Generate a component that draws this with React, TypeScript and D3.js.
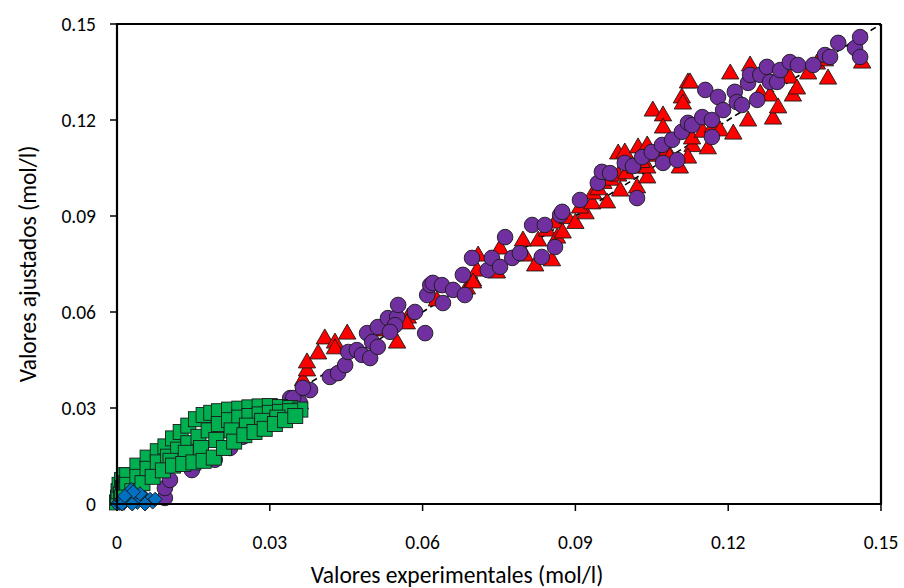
import React from "react";
import * as d3 from "d3";

const tickValues = [0, 0.03, 0.06, 0.09, 0.12, 0.15];
const tickLabels = ["0", "0.03", "0.06", "0.09", "0.12", "0.15"];
const xTitle = "Valores experimentales (mol/l)";
const yTitle = "Valores ajustados (mol/l)";

const blueDiamonds: [number, number][] = [
  [0.0, 0.0], [0.0005, 0.0003], [0.001, 0.001], [0.0015, 0.0005], [0.002, 0.0015],
  [0.0025, 0.0008], [0.003, 0.002], [0.0035, 0.001], [0.004, 0.0025], [0.004, 0.0005],
  [0.005, 0.0012], [0.0055, 0.002], [0.006, 0.0008], [0.0065, 0.0015], [0.007, 0.0006],
  [0.001, 0.0], [0.003, 0.0], [0.0045, 0.0032], [0.0028, 0.0045], [0.0032, 0.0038],
  [0.0075, 0.0015], [0.0055, 0.0], [0.0015, 0.0025],
];

const greenSquares: [number, number][] = [
  // near origin
  [0.0, 0.0005], [0.0002, 0.002], [0.0003, 0.004], [0.0005, 0.006], [0.0008, 0.003],
  [0.001, 0.0075], [0.0012, 0.005], [0.0015, 0.009], [0.0018, 0.0065],
  // upper
  [0.002, 0.009], [0.004, 0.012], [0.006, 0.0145], [0.008, 0.0165], [0.0095, 0.018],
  [0.011, 0.0205], [0.0125, 0.0225], [0.014, 0.0245], [0.0155, 0.0265], [0.017, 0.0278],
  [0.0185, 0.0285], [0.02, 0.029], [0.022, 0.0295], [0.024, 0.0298], [0.026, 0.0302],
  [0.028, 0.0305], [0.03, 0.0306], [0.032, 0.0303], [0.034, 0.03], [0.036, 0.0295],
  // middle
  [0.002, 0.006], [0.004, 0.0085], [0.006, 0.011], [0.008, 0.013], [0.01, 0.0148],
  [0.012, 0.017], [0.014, 0.019], [0.016, 0.021], [0.018, 0.023], [0.02, 0.025],
  [0.022, 0.0262], [0.024, 0.027], [0.026, 0.0275], [0.028, 0.028], [0.03, 0.0285],
  [0.032, 0.0288], [0.034, 0.029],
  // between
  [0.0105, 0.0135], [0.0135, 0.016], [0.0165, 0.0175], [0.0195, 0.02], [0.0225, 0.023],
  [0.0255, 0.0245], [0.0285, 0.026], [0.0315, 0.027],
  // lower
  [0.001, 0.002], [0.003, 0.004], [0.005, 0.0065], [0.007, 0.0085], [0.009, 0.0105],
  [0.011, 0.012], [0.013, 0.0125], [0.015, 0.013], [0.017, 0.0135], [0.019, 0.0145],
  [0.021, 0.0175], [0.023, 0.0195], [0.025, 0.0215], [0.027, 0.0225], [0.029, 0.0235],
  [0.031, 0.025], [0.033, 0.0262], [0.035, 0.0275],
];

const purpleCircles: [number, number][] = [
  [0.0094, 0.0019], [0.0094, 0.005], [0.0104, 0.0075], [0.0147, 0.0106], [0.0192, 0.0138],
  [0.0222, 0.0175], [0.0247, 0.021], [0.034, 0.0331], [0.0359, 0.0316], [0.0379, 0.0356],
  [0.0346, 0.0331], [0.0365, 0.0363], [0.0418, 0.0397], [0.0434, 0.0409], [0.0448, 0.0434],
  [0.0454, 0.0475], [0.0471, 0.0481], [0.0481, 0.0466], [0.0497, 0.0456], [0.0491, 0.0534],
  [0.0501, 0.0506], [0.0512, 0.0491], [0.0512, 0.0553], [0.0532, 0.0581], [0.055, 0.0584],
  [0.0546, 0.0559], [0.0536, 0.0538], [0.0552, 0.0622], [0.0585, 0.06], [0.0605, 0.0534],
  [0.0609, 0.0653], [0.0615, 0.0684], [0.062, 0.0691], [0.0638, 0.0684], [0.066, 0.0669],
  [0.0683, 0.0653], [0.064, 0.0628], [0.0679, 0.0716], [0.0697, 0.0769], [0.0728, 0.0731],
  [0.0736, 0.0769], [0.0752, 0.0741], [0.0762, 0.0834], [0.0776, 0.0769], [0.0791, 0.0784],
  [0.0815, 0.0872], [0.0834, 0.0772], [0.084, 0.0872], [0.086, 0.0803], [0.087, 0.0903],
  [0.0874, 0.0913], [0.0909, 0.095], [0.0944, 0.1003], [0.0952, 0.1038], [0.0968, 0.1034],
  [0.0997, 0.1066], [0.1013, 0.1056], [0.1021, 0.0956], [0.1031, 0.1084], [0.105, 0.11],
  [0.107, 0.1122], [0.1072, 0.1066], [0.109, 0.1138], [0.11, 0.1075], [0.1109, 0.1163],
  [0.1121, 0.1191], [0.1129, 0.1184], [0.1149, 0.1209], [0.1155, 0.1294], [0.1168, 0.12],
  [0.1168, 0.1147], [0.118, 0.1272], [0.119, 0.1231], [0.1213, 0.1288], [0.1217, 0.1256],
  [0.1227, 0.1247], [0.1239, 0.1316], [0.1243, 0.1341], [0.1257, 0.1263], [0.1263, 0.1341],
  [0.1276, 0.1366], [0.1282, 0.1319], [0.1296, 0.1319], [0.1302, 0.1356], [0.1321, 0.1381],
  [0.1337, 0.1372], [0.1367, 0.1372], [0.139, 0.1403], [0.14, 0.1397], [0.1416, 0.1441],
  [0.1449, 0.1425], [0.1459, 0.1459], [0.1459, 0.1397],
];

const redTriangles: [number, number][] = [
  [0.0359, 0.0316], [0.0365, 0.0388], [0.0373, 0.0419], [0.0373, 0.0444], [0.0395, 0.0472],
  [0.0408, 0.0519], [0.0428, 0.0506], [0.0428, 0.0488], [0.0452, 0.0534], [0.0526, 0.0544],
  [0.055, 0.0506], [0.0571, 0.0584], [0.0569, 0.0566], [0.0628, 0.0638], [0.0687, 0.0675],
  [0.0699, 0.07], [0.0707, 0.0731], [0.0699, 0.0694], [0.0709, 0.0778], [0.0746, 0.0725],
  [0.0752, 0.08], [0.0797, 0.0825], [0.0801, 0.0778], [0.0821, 0.0747], [0.0827, 0.0825],
  [0.0844, 0.0856], [0.0854, 0.0763], [0.086, 0.0881], [0.0864, 0.0834], [0.0875, 0.085],
  [0.0885, 0.0895], [0.09, 0.088], [0.092, 0.091], [0.0909, 0.0928], [0.0933, 0.0941],
  [0.0935, 0.0972], [0.0962, 0.0944], [0.0945, 0.0985], [0.0955, 0.1005], [0.097, 0.1015],
  [0.0984, 0.1028], [0.0988, 0.0981], [0.0984, 0.1097], [0.0997, 0.11], [0.1, 0.1035],
  [0.1021, 0.0991], [0.1017, 0.1053], [0.1023, 0.1116], [0.1041, 0.1122], [0.1041, 0.1022],
  [0.1041, 0.1053], [0.103, 0.107], [0.1052, 0.1231], [0.1072, 0.1216], [0.1072, 0.1178],
  [0.106, 0.109], [0.108, 0.1105], [0.1085, 0.1085], [0.1105, 0.1053], [0.1109, 0.1272],
  [0.1111, 0.1253], [0.1121, 0.1319], [0.1125, 0.1319], [0.113, 0.112], [0.1121, 0.1084],
  [0.1129, 0.1144], [0.115, 0.1165], [0.116, 0.1113], [0.117, 0.118], [0.1184, 0.1169],
  [0.121, 0.1159], [0.1204, 0.1347], [0.1239, 0.12], [0.1243, 0.1372], [0.1263, 0.1284],
  [0.1282, 0.1278], [0.1288, 0.1206], [0.1298, 0.1241], [0.1321, 0.1334], [0.1327, 0.1278],
  [0.1335, 0.13], [0.1357, 0.1347], [0.1374, 0.1378], [0.139, 0.1388], [0.1396, 0.1331],
  [0.1463, 0.1381],
];

const W = 904;
const H = 588;
const X0 = 117, X1 = 881, Y0 = 504, Y1 = 24;
const FONT = "Carlito, Lato, 'Open Sans', sans-serif";

export default function App() {
  const x = d3.scaleLinear().domain([0, 0.15]).range([X0, X1]);
  const y = d3.scaleLinear().domain([0, 0.15]).range([Y0, Y1]);
  const tri = d3.symbol().type(d3.symbolTriangle).size(130)();
  const sq = 15;
  const dia = 7;

  return (
    <svg
      width={W}
      height={H}
      style={{ position: "absolute", left: 0, top: 0, background: "#fff" }}
      fontFamily={FONT}
    >
      <rect x={0} y={0} width={W} height={H} fill="#fff" />
      <line
        x1={x(0)}
        y1={y(0)}
        x2={x(0.15)}
        y2={y(0.15)}
        stroke="#000"
        strokeWidth={1.6}
        strokeDasharray="6,4"
      />
      <g>
        {redTriangles.map((d, i) => (
          <path
            key={"t" + i}
            d={tri as string}
            transform={`translate(${x(d[0])},${y(d[1]) + 1})`}
            fill="#FF0000"
            stroke="#1a1a1a"
            strokeWidth={0.9}
          />
        ))}
      </g>
      <g>
        {purpleCircles.map((d, i) => (
          <circle
            key={"c" + i}
            cx={x(d[0])}
            cy={y(d[1])}
            r={7.8}
            fill="#7030A0"
            stroke="#1a1a1a"
            strokeWidth={0.9}
          />
        ))}
      </g>
      <g>
        {greenSquares.map((d, i) => (
          <rect
            key={"s" + i}
            x={x(d[0]) - sq / 2}
            y={y(d[1]) - sq / 2}
            width={sq}
            height={sq}
            fill="#00B050"
            stroke="#1a1a1a"
            strokeWidth={0.9}
          />
        ))}
      </g>
      <g>
        {blueDiamonds.map((d, i) => {
          const cx = x(d[0]);
          const cy = y(d[1]);
          return (
            <path
              key={"d" + i}
              d={`M${cx},${cy - dia}L${cx + dia},${cy}L${cx},${cy + dia}L${cx - dia},${cy}Z`}
              fill="#0070C0"
              stroke="#1a1a1a"
              strokeWidth={0.9}
            />
          );
        })}
      </g>
      <line x1={X0} y1={Y1} x2={X1} y2={Y1} stroke="#000" strokeWidth={2.2} />
      <line x1={X1} y1={Y1} x2={X1} y2={Y0} stroke="#000" strokeWidth={2.2} />
      <line x1={X0} y1={Y0} x2={X1 + 1} y2={Y0} stroke="#000" strokeWidth={2.2} />
      <line x1={X0} y1={Y1 - 1} x2={X0} y2={Y0 + 1} stroke="#000" strokeWidth={2.2} />
      {tickValues.map((t, i) => (
        <g key={"xt" + i}>
          <line x1={x(t)} y1={Y0} x2={x(t)} y2={Y0 + 7} stroke="#000" strokeWidth={1.5} />
          <text x={x(t)} y={549} textAnchor="middle" fontSize={19.5} fill="#000">
            {tickLabels[i]}
          </text>
        </g>
      ))}
      {tickValues.map((t, i) => (
        <g key={"yt" + i}>
          <line x1={X0 - 7} y1={y(t)} x2={X0} y2={y(t)} stroke="#000" strokeWidth={1.5} />
          <text x={96} y={y(t) + 7} textAnchor="end" fontSize={19.5} fill="#000">
            {tickLabels[i]}
          </text>
        </g>
      ))}
      <text x={457} y={583} textAnchor="middle" fontSize={23.5} fill="#000">
        {xTitle}
      </text>
      <text
        transform={`translate(36,264) rotate(-90)`}
        textAnchor="middle"
        fontSize={23.5}
        fill="#000"
      >
        {yTitle}
      </text>
    </svg>
  );
}
